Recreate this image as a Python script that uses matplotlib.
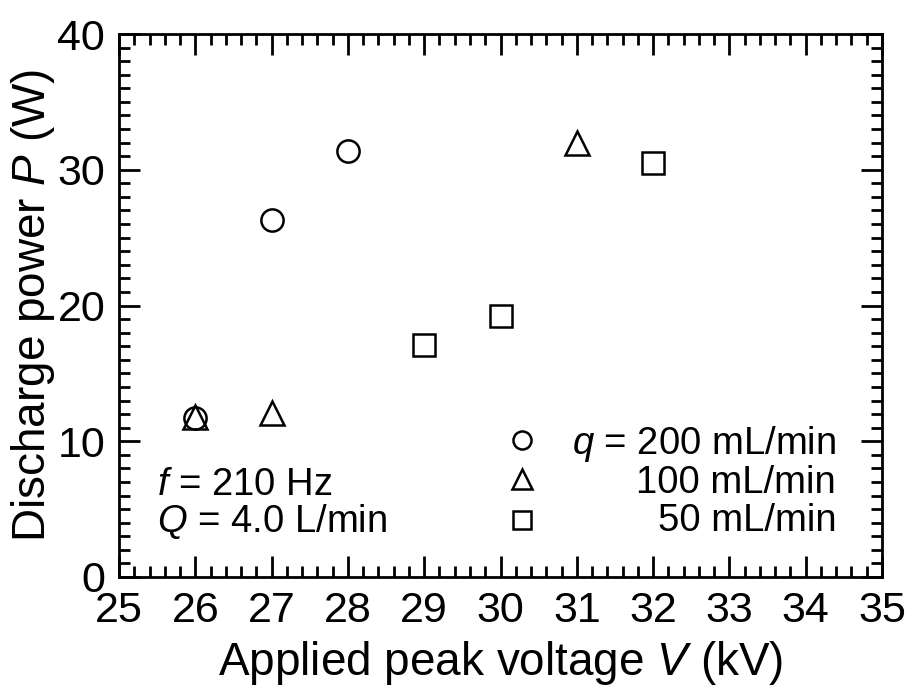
import matplotlib
matplotlib.use("Agg")
from matplotlib import pyplot as plt
from matplotlib.ticker import MultipleLocator

plt.rcParams['font.family'] = ['Liberation Sans', 'DejaVu Sans']
plt.rcParams['mathtext.fontset'] = 'custom'
plt.rcParams['mathtext.it'] = 'Liberation Sans:italic'
plt.rcParams['mathtext.rm'] = 'Liberation Sans'

# discharge power vs applied voltage for three solution flow rates
v_200 = [26, 27, 28]
p_200 = [11.7, 26.3, 31.4]
v_100 = [26, 27, 31]
p_100 = [11.8, 12.1, 32.0]
v_50 = [29, 30, 32]
p_50 = [17.1, 19.2, 30.5]

fig = plt.figure(figsize=(9.12, 6.93), dpi=100)
ax = fig.add_axes([0.1305, 0.1674, 0.8366, 0.7835])

estilo = dict(linestyle="none", markerfacecolor="none", markeredgecolor="black",
              markeredgewidth=1.8, clip_on=False)
ax.plot(v_200, p_200, marker="o", markersize=16, **estilo)
ax.plot(v_100, p_100, marker="^", markersize=17, **estilo)
ax.plot(v_50, p_50, marker="s", markersize=16, **estilo)

ax.set_xlim(25, 35)
ax.set_ylim(0, 40)
ax.xaxis.set_major_locator(MultipleLocator(1))
ax.xaxis.set_minor_locator(MultipleLocator(0.2))
ax.yaxis.set_major_locator(MultipleLocator(10))
ax.yaxis.set_minor_locator(MultipleLocator(1))

for lado in ax.spines.values():
    lado.set_linewidth(2)
ax.tick_params(which="both", direction="in", top=True, right=True, width=2,
               labelsize=31)
ax.tick_params(which="major", length=15)
ax.tick_params(which="minor", length=8)
ax.tick_params(axis="x", pad=10)
ax.tick_params(axis="y", pad=10)

ax.set_xlabel("Applied peak voltage $\\mathit{V}$ (kV)", fontsize=33, labelpad=6)
ax.set_ylabel("Discharge power $\\mathit{P}$ (W)", fontsize=33, labelpad=0)

# condition labels
ax.text(25.5, 6.8, "$\\mathit{f}$ = 210 Hz", fontsize=27.5, va="center")
ax.text(25.5, 4.1, "$\\mathit{Q}$ = 4.0 L/min", fontsize=27.5, va="center")

# legend drawn by hand
ley_x = 30.28
ax.plot([ley_x], [10.1], marker="o", markersize=13, **estilo)
ax.plot([ley_x], [7.2], marker="^", markersize=14, **estilo)
ax.plot([ley_x], [4.2], marker="s", markersize=13, **estilo)
ax.text(34.4, 9.8, "$\\mathit{q}$ = 200 mL/min", fontsize=27.5, va="center", ha="right")
ax.text(34.4, 6.9, "100 mL/min", fontsize=27.5, va="center", ha="right")
ax.text(34.4, 4.1, "50 mL/min", fontsize=27.5, va="center", ha="right")

fig.savefig("out.png", dpi=100)
